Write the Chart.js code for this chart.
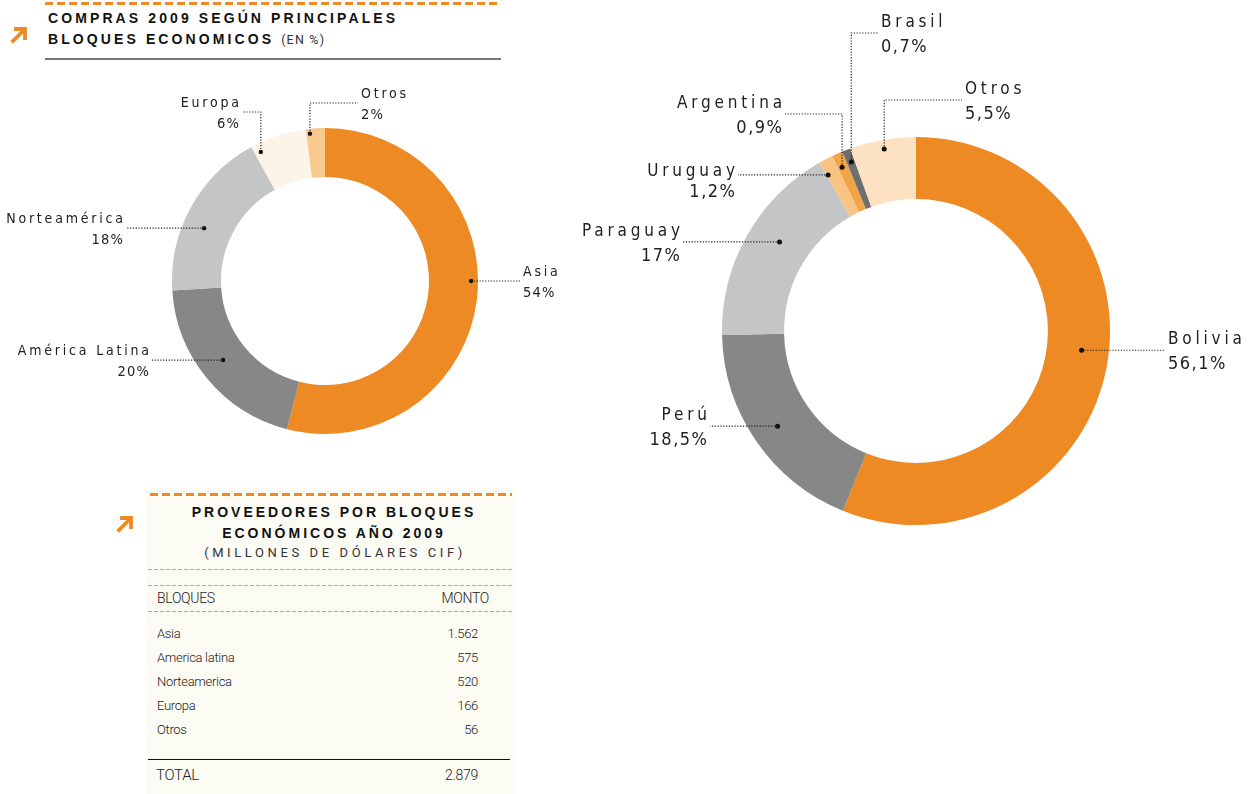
<!DOCTYPE html>
<html lang="es">
<head>
<meta charset="utf-8">
<script src="https://cdn.jsdelivr.net/npm/chart.js@4/dist/chart.umd.min.js"></script>
<style>
  html, body { margin:0; padding:0; background:#fff; }
  body { width:1256px; height:794px; position:relative; overflow:hidden; font-family:"Liberation Sans", Arial, sans-serif; }
  .abs { position:absolute; white-space:nowrap; }
  .dash-orange { position:absolute; height:3px; background:repeating-linear-gradient(to right,#ee8a23 0 8px,transparent 8px 12px); }
  .dash-thin { position:absolute; height:1px; background:repeating-linear-gradient(to right,#d9a454 0 4px,transparent 4px 6px); }
  .ttl { font-weight:bold; font-size:14px; letter-spacing:3.1px; color:#111; line-height:16px; }
  .light { font-family:Roboto, "Liberation Sans", sans-serif; font-weight:300; color:#222; letter-spacing:-0.3px; }
  canvas { position:absolute; }
</style>
</head>
<body>
<!-- header left -->
<div class="dash-orange" style="left:45px; top:2px; width:456px;"></div>
<svg class="abs" style="left:10px; top:24px;" width="20" height="20" viewBox="0 0 20 20">
  <path d="M3 17 L13 7 M6 5 L15 5 L15 14" stroke="#ee8a23" stroke-width="3.8" fill="none" stroke-linecap="square"/>
</svg>
<div class="abs ttl" style="left:48px; top:10px;">COMPRAS 2009 SEGÚN PRINCIPALES</div>
<div class="abs ttl" style="left:48px; top:31px;">BLOQUES ECONOMICOS <span style="font-weight:normal; font-size:12.5px; letter-spacing:1.2px; color:#333; font-family:Roboto, sans-serif;">(EN %)</span></div>
<div class="abs" style="left:45px; top:58px; width:456px; height:2px; background:#777;"></div>

<!-- table -->
<div class="abs" style="left:146px; top:490px; width:370px; height:304px; background:#fcfbf4;"></div>
<div class="dash-orange" style="left:150px; top:493px; width:362px;"></div>
<svg class="abs" style="left:116px; top:513px;" width="20" height="20" viewBox="0 0 20 20">
  <path d="M3 17 L13 7 M6 5 L15 5 L15 14" stroke="#ee8a23" stroke-width="3.8" fill="none" stroke-linecap="square"/>
</svg>
<div id="table"></div>

<canvas id="left" width="570" height="420" style="left:0px; top:60px;"></canvas>
<canvas id="right" width="686" height="560" style="left:570px; top:0px;"></canvas>

<script>
// ---------- DATA ----------
const leftLabels = ['Asia', 'América Latina', 'Norteamérica', 'Europa', 'Otros'];
const leftValues = [54, 20, 18, 6, 2];
const leftPctText = ['54%', '20%', '18%', '6%', '2%'];

const rightLabels = ['Bolivia', 'Perú', 'Paraguay', 'Uruguay', 'Argentina', 'Brasil', 'Otros'];
const rightValues = [56.1, 18.5, 17, 1.2, 0.9, 0.7, 5.5];
const rightPctText = ['56,1%', '18,5%', '17%', '1,2%', '0,9%', '0,7%', '5,5%'];

const tableTitle = ['PROVEEDORES POR BLOQUES', 'ECONÓMICOS AÑO 2009'];
const tableSubtitle = '(MILLONES DE DÓLARES CIF)';
const tableHeaders = ['BLOQUES', 'MONTO'];
const tableBlocks = ['Asia', 'America latina', 'Norteamerica', 'Europa', 'Otros'];
const tableAmounts = ['1.562', '575', '520', '166', '56'];
const tableTotal = ['TOTAL', '2.879'];

// ---------- STYLES ----------
const leftColors = ['#ee8a23', '#878787', '#c4c5c6', '#fdf4e8', '#f8c88c'];
const rightColors = ['#ee8a23', '#878787', '#c4c5c6', '#f9c383', '#f2a546', '#6f6f6f', '#fde1c3'];

// label layout (canvas coordinates): t = position along arc, r = radial position in band,
// lx/ly = leader end near text, elbow = vertical then horizontal, side = text side
const leftLabelLayout = [
  {t:0.463, r:0.86, lx:520, side:'right'},
  {t:0.525, r:0.51, lx:152, side:'left'},
  {t:0.42,  r:0.57, lx:126, side:'left'},
  {t:0.11,  r:0.82, lx:242, ly:52, elbow:true, side:'left'},
  {t:0.19,  r:0.90, lx:358, ly:43, elbow:true, side:'right'}
];
const rightLabelLayout = [
  {t:0.478, r:0.56, lx:595, side:'right'},
  {t:0.50,  r:0.58, lx:140, side:'left'},
  {t:0.56,  r:0.50, lx:113, side:'left'},
  {t:0.12,  r:0.76, lx:168, side:'left', nameUp:-1, pctDown:22},
  {t:0.40,  r:0.77, lx:215, ly:114, elbow:true, side:'left'},
  {t:0.55,  r:0.79, lx:308, ly:33, elbow:true, side:'right'},
  {t:0.50,  r:0.85, lx:392, ly:100, elbow:true, side:'right'}
];

function drawSpaced(ctx, text, x, y, spacing, side) {
  ctx.letterSpacing = spacing + 'px';
  const w = ctx.measureText(text).width - spacing;
  ctx.textAlign = 'left';
  if (side === 'left') ctx.fillText(text, x - w, y);
  else ctx.fillText(text, x, y);
}

const leaderPlugin = {
  id: 'leaders',
  afterDatasetsDraw(chart, args, opts) {
    const ctx = chart.ctx;
    const meta = chart.getDatasetMeta(0);
    const labels = chart.data.labels;
    opts.layout.forEach((it, i) => {
      const arc = meta.data[i];
      const p = arc.getProps(['x','y','startAngle','endAngle','innerRadius','outerRadius'], true);
      const a = p.startAngle + (p.endAngle - p.startAngle) * it.t;
      const r = p.innerRadius + (p.outerRadius - p.innerRadius) * it.r;
      const dx = p.x + Math.cos(a) * r;
      const dy = p.y + Math.sin(a) * r;
      const ly = it.elbow ? it.ly : dy;
      ctx.save();
      ctx.strokeStyle = '#222';
      ctx.lineWidth = 1.2;
      ctx.setLineDash([1.2, 1.6]);
      ctx.beginPath();
      ctx.moveTo(dx, dy);
      if (it.elbow) { ctx.lineTo(dx, ly); ctx.lineTo(it.lx, ly); }
      else ctx.lineTo(it.lx, ly);
      ctx.stroke();
      ctx.setLineDash([]);
      ctx.fillStyle = '#111';
      ctx.beginPath();
      ctx.arc(dx, dy, opts.dot, 0, Math.PI * 2);
      ctx.fill();
      // text
      ctx.fillStyle = '#222';
      ctx.textBaseline = 'alphabetic';
      const tx = it.side === 'left' ? it.lx - 3 : it.lx + 3;
      const up = it.nameUp !== undefined ? it.nameUp : opts.nameUp;
      const down = it.pctDown !== undefined ? it.pctDown : opts.pctDown;
      ctx.font = opts.font;
      drawSpaced(ctx, labels[i], tx, ly - up, opts.nameSpacing, it.side);
      ctx.font = opts.pctFont;
      drawSpaced(ctx, opts.pct[i], tx, ly + down, opts.pctSpacing, it.side);
      ctx.restore();
    });
  }
};

function makeDonut(id, labels, values, colors, padding, cutout, labelOpts) {
  return new Chart(document.getElementById(id), {
    type: 'doughnut',
    data: { labels: labels, datasets: [{ data: values, backgroundColor: colors, borderWidth: 0, hoverOffset: 0, offset: 0 }] },
    options: {
      responsive: false,
      animation: false,
      events: [],
      cutout: cutout,
      rotation: 0,
      layout: { padding: padding },
      plugins: { legend: { display: false }, tooltip: { enabled: false }, leaders: labelOpts }
    },
    plugins: [leaderPlugin]
  });
}

const condensed = '"DejaVu Sans Condensed", "Liberation Sans Narrow", sans-serif';

makeDonut('left', leftLabels, leftValues, leftColors,
  { left: 172, right: 92, top: 68, bottom: 46 }, '68%',
  { layout: leftLabelLayout, pct: leftPctText, font: '14px ' + condensed, pctFont: '14.5px ' + condensed,
    nameSpacing: 2.8, pctSpacing: 1.2, nameUp: 5, pctDown: 16, dot: 2.2 });

makeDonut('right', rightLabels, rightValues, rightColors,
  { left: 152, right: 146, top: 137, bottom: 35 }, '68%',
  { layout: rightLabelLayout, pct: rightPctText, font: '17px ' + condensed, pctFont: '18px ' + condensed,
    nameSpacing: 3.8, pctSpacing: 1.5, nameUp: 6, pctDown: 19, dot: 2.5 });

// ---------- TABLE ----------
(function buildTable() {
  const host = document.getElementById('table');
  let html = '';
  html += `<div class="abs ttl" style="left:146px; width:370px; text-align:center; top:504px; letter-spacing:3px; padding-left:3px;">${tableTitle[0]}</div>`;
  html += `<div class="abs ttl" style="left:146px; width:370px; text-align:center; top:525px; letter-spacing:3px; padding-left:3px;">${tableTitle[1]}</div>`;
  html += `<div class="abs light" style="left:146px; width:370px; text-align:center; top:545px; font-size:13px; letter-spacing:3.6px; padding-left:4px; color:#333; font-weight:400;">${tableSubtitle}</div>`;
  html += `<div class="dash-thin" style="left:148px; top:569px; width:364px;"></div>`;
  html += `<div class="dash-thin" style="left:148px; top:585px; width:364px;"></div>`;
  html += `<div class="abs light" style="left:157px; top:590px; font-size:14px;">${tableHeaders[0]}</div>`;
  html += `<div class="abs light" style="right:${1256-489}px; top:590px; font-size:14px;">${tableHeaders[1]}</div>`;
  html += `<div class="dash-thin" style="left:148px; top:611px; width:364px;"></div>`;
  tableBlocks.forEach((b, i) => {
    const top = 626 + i * 24;
    html += `<div class="abs light" style="left:157px; top:${top}px; font-size:13px;">${b}</div>`;
    html += `<div class="abs light" style="right:${1256-478}px; top:${top}px; font-size:13px;">${tableAmounts[i]}</div>`;
  });
  html += `<div class="abs" style="left:148px; top:759px; width:362px; height:1px; background:#111;"></div>`;
  html += `<div class="abs light" style="left:156px; top:766px; font-size:15px;">${tableTotal[0]}</div>`;
  html += `<div class="abs light" style="right:${1256-478}px; top:767px; font-size:14px;">${tableTotal[1]}</div>`;
  host.innerHTML = html;
})();
</script>
</body>
</html>
